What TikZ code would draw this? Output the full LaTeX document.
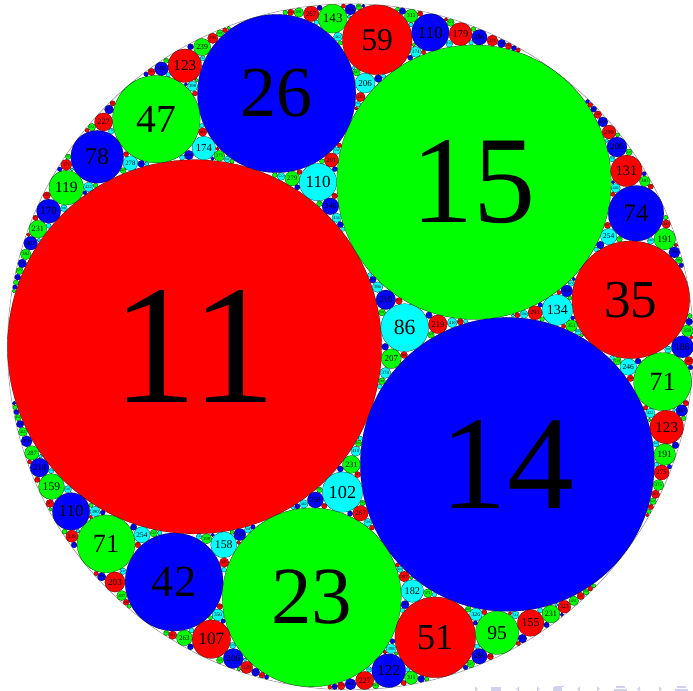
\documentclass[tikz,border=0pt]{standalone}
\usepackage{fontspec}
\setmainfont{Liberation Serif}
\definecolor{navc}{rgb}{0.82,0.82,0.93}
\definecolor{apred}{rgb}{1,0,0}
\definecolor{apgreen}{rgb}{0,1,0}
\definecolor{apblue}{rgb}{0,0,1}
\definecolor{apcyan}{rgb}{0,1,1}
\tikzset{
  disc/.style={draw=black, line width=0.2pt},
  lbl/.style={inner sep=0pt, text=black, font=\fontsize{10}{12}\selectfont},
  rim/.style={draw=black!45, line width=0.5bp},
  nav/.style={fill=navc, draw=none}
}
% Apollonian gasket (-6,11,14,15), complex Descartes recursion
\newcount\apN
\def\apK#1{\csname apk#1\endcsname}
\def\apX#1{\csname apx#1\endcsname}
\def\apY#1{\csname apy#1\endcsname}
\def\apC#1{\csname apc#1\endcsname}
\def\apS{2058}\def\apOx{350.5}\def\apOy{344.2}
\def\apKmax{1150}\def\apLmax{800}
\def\apSet#1#2#3#4#5{%
  \expandafter\xdef\csname apk#1\endcsname{#2}%
  \expandafter\xdef\csname apx#1\endcsname{#3}%
  \expandafter\xdef\csname apy#1\endcsname{#4}%
  \expandafter\xdef\csname apc#1\endcsname{#5}}
\def\apDraw#1{%
  \edef\apcx{\fpeval{round(\apOx+\apS*(\apX{#1})/(\apK{#1}),3)}}%
  \edef\apcy{\fpeval{round(\apOy+\apS*(\apY{#1})/(\apK{#1}),3)}}%
  \edef\apr{\fpeval{round(\apS/(\apK{#1}),3)}}%
  \edef\apsc{\fpeval{round(0.091*\apr,4)}}%
  \edef\apcol{\apC{#1}}%
  \filldraw[disc, fill=\apcol] (\apcx bp,\apcy bp) circle[radius=\apr bp];
  \ifnum\apK{#1}<\apLmax\relax
    \node[lbl, scale=\apsc] (c#1) at (\apcx bp,\apcy bp) {\apK{#1}};
  \fi}
\def\apGap#1#2#3#4{%
  \edef\apk{\the\numexpr 2*(\apK{#1}+\apK{#2}+\apK{#3})-(\apK{#4})\relax}%
  \ifnum\apk<\apKmax\relax
    \global\advance\apN by 1
    \edef\apme{\the\apN}%
    \apSet{\apme}{\apk}%
      {\fpeval{2*((\apX{#1})+(\apX{#2})+(\apX{#3}))-(\apX{#4})}}%
      {\fpeval{2*((\apY{#1})+(\apY{#2})+(\apY{#3}))-(\apY{#4})}}%
      {\apC{#4}}%
    \apDraw{\apme}%
    \edef\apnext{\noexpand\apGap{#1}{#2}{\apme}{#3}%
      \noexpand\apGap{#1}{#3}{\apme}{#2}%
      \noexpand\apGap{#2}{#3}{\apme}{#1}}%
  \else
    \let\apnext\relax
  \fi
  \apnext}
\begin{document}
\begin{tikzpicture}
\useasboundingbox (0,0) rectangle (693bp,691bp);
\node[circle, minimum size=686bp, inner sep=0pt, rim] (outer) at (350.5bp,344.2bp) {};
\apSet{0}{-6}{0}{0}{apcyan}
\apSet{1}{11}{-0.8333333333333333}{0}{apred}
\apSet{2}{14}{1.0666666666666667}{-0.8}{apblue}
\apSet{3}{15}{0.9}{1.2}{apgreen}
\global\apN=3
\apDraw{1}\apDraw{2}\apDraw{3}
\apGap{0}{1}{2}{3}
\apGap{0}{1}{3}{2}
\apGap{0}{2}{3}{1}
\apGap{1}{2}{3}{0}
% beamer navigation symbols (cut off at bottom)
\foreach \x/\d [count=\i] in {478/-1,516/1,540/-1,577/1,600/-1,637/1,662/-1}{
  \fill[nav] (\x bp,2bp) -- ++(\d*3bp,2.5bp) -- ++(0,-5bp) -- cycle;
}
\fill[nav] (491bp,0bp) rectangle (501bp,4bp);
\fill[nav] (553bp,0bp) rectangle (562bp,3.5bp);
\fill[nav] (555bp,3.5bp) rectangle (564bp,5bp);
\fill[nav] (616bp,3bp) rectangle (625bp,4.5bp);
\fill[nav] (614bp,0bp) rectangle (627bp,2bp);
\fill[nav] (677bp,3bp) rectangle (686bp,4.5bp);
\fill[nav] (675bp,0bp) rectangle (688bp,2bp);
\end{tikzpicture}
\end{document}
